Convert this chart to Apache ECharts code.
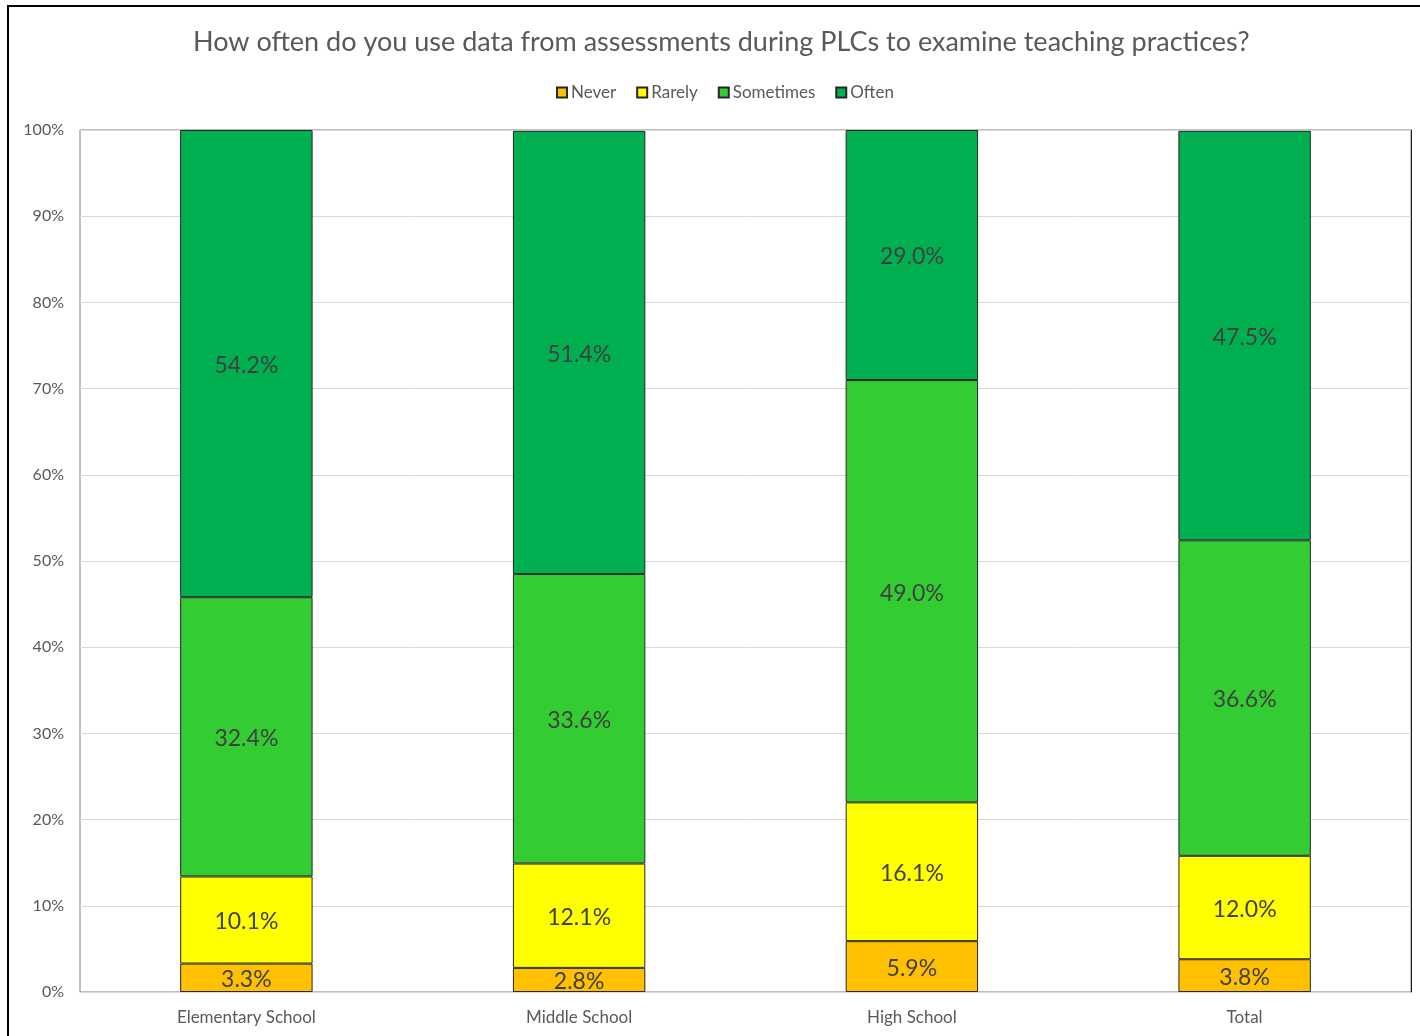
<!DOCTYPE html>
<html><head><meta charset="utf-8">
<script src="https://cdn.jsdelivr.net/npm/echarts@6/dist/echarts.min.js"></script>
<style>html,body{margin:0;padding:0;background:#fff}#c{width:1420px;height:1036px}</style>
</head><body><div id="c"></div>
<script>
const categories = ['Elementary School', 'Middle School', 'High School', 'Total'];
const never = [3.3, 2.8, 5.9, 3.8];
const rarely = [10.1, 12.1, 16.1, 12.0];
const sometimes = [32.4, 33.6, 49.0, 36.6];
const often = [54.2, 51.4, 29.0, 47.5];
const yTicks = [0, 10, 20, 30, 40, 50, 60, 70, 80, 90, 100];

const FONT = 'Lato, "Open Sans", sans-serif';
const chart = echarts.init(document.getElementById('c'), null, {renderer: 'canvas'});
function mk(name, data, color) {
  return {
    name, type: 'bar', stack: 'all', data, barWidth: '39.8%',
    itemStyle: {color, borderColor: '#262626', borderWidth: 1},
    label: {show: true, position: 'inside', formatter: p => p.value.toFixed(1) + '%',
      color: '#404040', fontSize: 23, fontFamily: FONT, offset: [0, 2]}
  };
}
chart.setOption({
  animation: false,
  backgroundColor: '#fff',
  title: {text: 'How often do you use data from assessments during PLCs to examine teaching practices?',
    left: 188, top: 24, textStyle: {color: '#595959', fontSize: 27, fontWeight: 'normal', fontFamily: FONT}},
  legend: {top: 79, left: 551, itemWidth: 10, itemHeight: 10, itemGap: 20,
    textStyle: {color: '#595959', fontSize: 17, fontFamily: FONT, padding: [0, 0, 0, -1]},
    data: ['Never', 'Rarely', 'Sometimes', 'Often'].map(n => ({name: n, icon: 'rect'}))},
  grid: {left: 80, right: 9, top: 130, bottom: 44, show: true, borderColor: '#7f7f7f', borderWidth: 1},
  xAxis: {type: 'category', data: categories,
    axisLine: {show: true, lineStyle: {color: '#d9d9d9', width: 1}}, axisTick: {show: false},
    axisLabel: {color: '#595959', fontSize: 17, fontFamily: FONT, margin: 17}},
  yAxis: [{type: 'value', min: 0, max: 100, interval: 10,
    axisLabel: {formatter: v => yTicks.includes(v) ? v + '%' : '', color: '#595959', fontSize: 16, fontFamily: FONT, margin: 16},
    splitLine: {lineStyle: {color: '#d9d9d9'}}, axisLine: {show: false}},
    {type: 'value', min: 0, max: 100, position: 'right', axisLabel: {show: false}, splitLine: {show: false},
     axisLine: {show: true, lineStyle: {color: '#1a1a1a'}}, axisTick: {show: false}}],
  series: [
    mk('Never', never, '#FFC000'),
    mk('Rarely', rarely, '#FFFF00'),
    mk('Sometimes', sometimes, '#33CC33'),
    mk('Often', often, '#00B050')
  ],
  graphic: [{type: 'rect', shape: {x: 8, y: 6, width: 1430, height: 1050}, style: {fill: 'none', stroke: '#000', lineWidth: 2}, silent: true}]
});
</script></body></html>
